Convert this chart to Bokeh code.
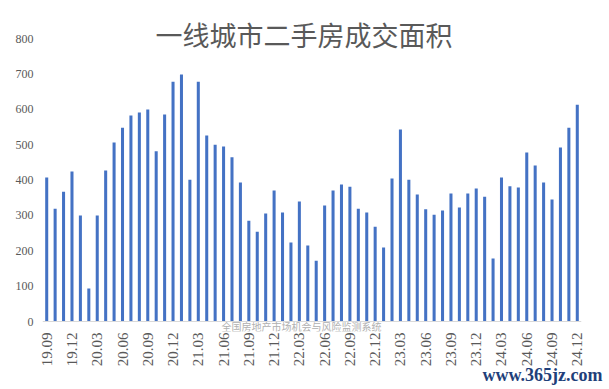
from bokeh.plotting import figure
from bokeh.models import Range1d, FixedTicker, Label, ColumnDataSource, Span, Title
from bokeh.embed import file_html
from bokeh.resources import INLINE
import math

# ---- data ----
months = []
for yy in range(19, 25):
    for mm in range(1, 13):
        if (yy == 19 and mm < 9):
            continue
        months.append(f"{yy}.{mm:02d}")

area = [407, 319, 367, 424, 300, 93, 300, 427, 506, 548,
        582, 591, 599, 481, 585, 678, 698, 401, 678, 526,
        500, 495, 464, 393, 285, 254, 305, 370, 308, 223,
        339, 215, 172, 328, 370, 387, 381, 319, 308, 268,
        209, 404, 543, 401, 359, 317, 302, 314, 362, 322,
        362, 376, 353, 178, 407, 382, 379, 478, 441, 393,
        345, 492, 548, 613]

tick_labels = ["19.09", "19.12", "20.03", "20.06", "20.09", "20.12",
               "21.03", "21.06", "21.09", "21.12", "22.03", "22.06",
               "22.09", "22.12", "23.03", "23.06", "23.09", "23.12",
               "24.03", "24.06", "24.09", "24.12"]
y_ticks = [0, 100, 200, 300, 400, 500, 600, 700, 800]

title_text = "一线城市二手房成交面积"
watermark = "全国房地产市场机会与风险监测系统"
site = "www.365jz.com"

# ---- layout (pixels) ----
W, H = 609, 389
PX_PER_UNIT = 283 / 800.0          # 800 units span 283 px
frame_top_pad = 33                 # px above the 800 line
frame_bot_pad = 10                 # px below the 0 line

p = figure(width=W, height=H, output_backend="svg", toolbar_location=None,
           x_range=Range1d(-0.5, len(months) - 0.5),
           y_range=Range1d(-frame_bot_pad / PX_PER_UNIT, 800 + frame_top_pad / PX_PER_UNIT),
           min_border_left=42, min_border_right=28, min_border_top=5,
           min_border_bottom=58)
p.outline_line_color = None
p.xgrid.visible = False
p.ygrid.visible = False
p.background_fill_color = "white"
p.border_fill_color = "white"

idx = list(range(len(months)))
src = ColumnDataSource(dict(x=idx, top=area))
p.vbar(x="x", top="top", width=0.36, source=src, fill_color="#4472C4",
       line_color=None)

# category axis line at zero
p.add_layout(Span(location=0, dimension="width", line_color="#d9d9d9", line_width=1))

tick_pos = [months.index(t) for t in tick_labels]
p.xaxis.ticker = FixedTicker(ticks=tick_pos)
p.xaxis.major_label_overrides = {months.index(t): t for t in tick_labels}
p.xaxis.major_label_orientation = math.pi / 2
p.xaxis.axis_line_color = None
p.xaxis.major_tick_line_color = None
p.xaxis.minor_tick_line_color = None
p.xaxis.major_tick_out = 0
p.xaxis.major_tick_in = 0
p.xaxis.major_label_standoff = 1
p.xaxis.major_label_text_font = "Liberation Serif"
p.xaxis.major_label_text_font_size = "15px"
p.xaxis.major_label_text_color = "#595959"

p.yaxis.ticker = FixedTicker(ticks=y_ticks)
p.yaxis.axis_line_color = None
p.yaxis.major_tick_line_color = None
p.yaxis.minor_tick_line_color = None
p.yaxis.major_tick_out = 0
p.yaxis.major_tick_in = 0
p.yaxis.major_label_standoff = 9
p.yaxis.major_label_text_font = "Liberation Serif"
p.yaxis.major_label_text_font_size = "12px"
p.yaxis.major_label_text_color = "#595959"

# title (inside the frame's top padding)
p.add_layout(Label(x=30.55, y=800 + 4 / PX_PER_UNIT, text=title_text,
                   text_align="center", text_baseline="middle",
                   text_font_size="27px", text_font="Noto Sans CJK SC",
                   text_font_style="normal", text_color="#595959"))
# watermark just under the zero line
p.add_layout(Label(x=30.25, y=-5 / PX_PER_UNIT, text=watermark,
                   text_align="center", text_baseline="middle",
                   text_font_size="10px", text_font="Noto Sans CJK SC",
                   text_color="#b0b0b0"))
# site mark at bottom right
site_title = Title(text=site, align="right", offset=-21, standoff=-13,
                   text_font_size="18px", text_font="Liberation Serif",
                   text_font_style="bold", text_color="#1f3f7a")
p.add_layout(site_title, "below")

open("out.html", "w").write(file_html(p, INLINE))
